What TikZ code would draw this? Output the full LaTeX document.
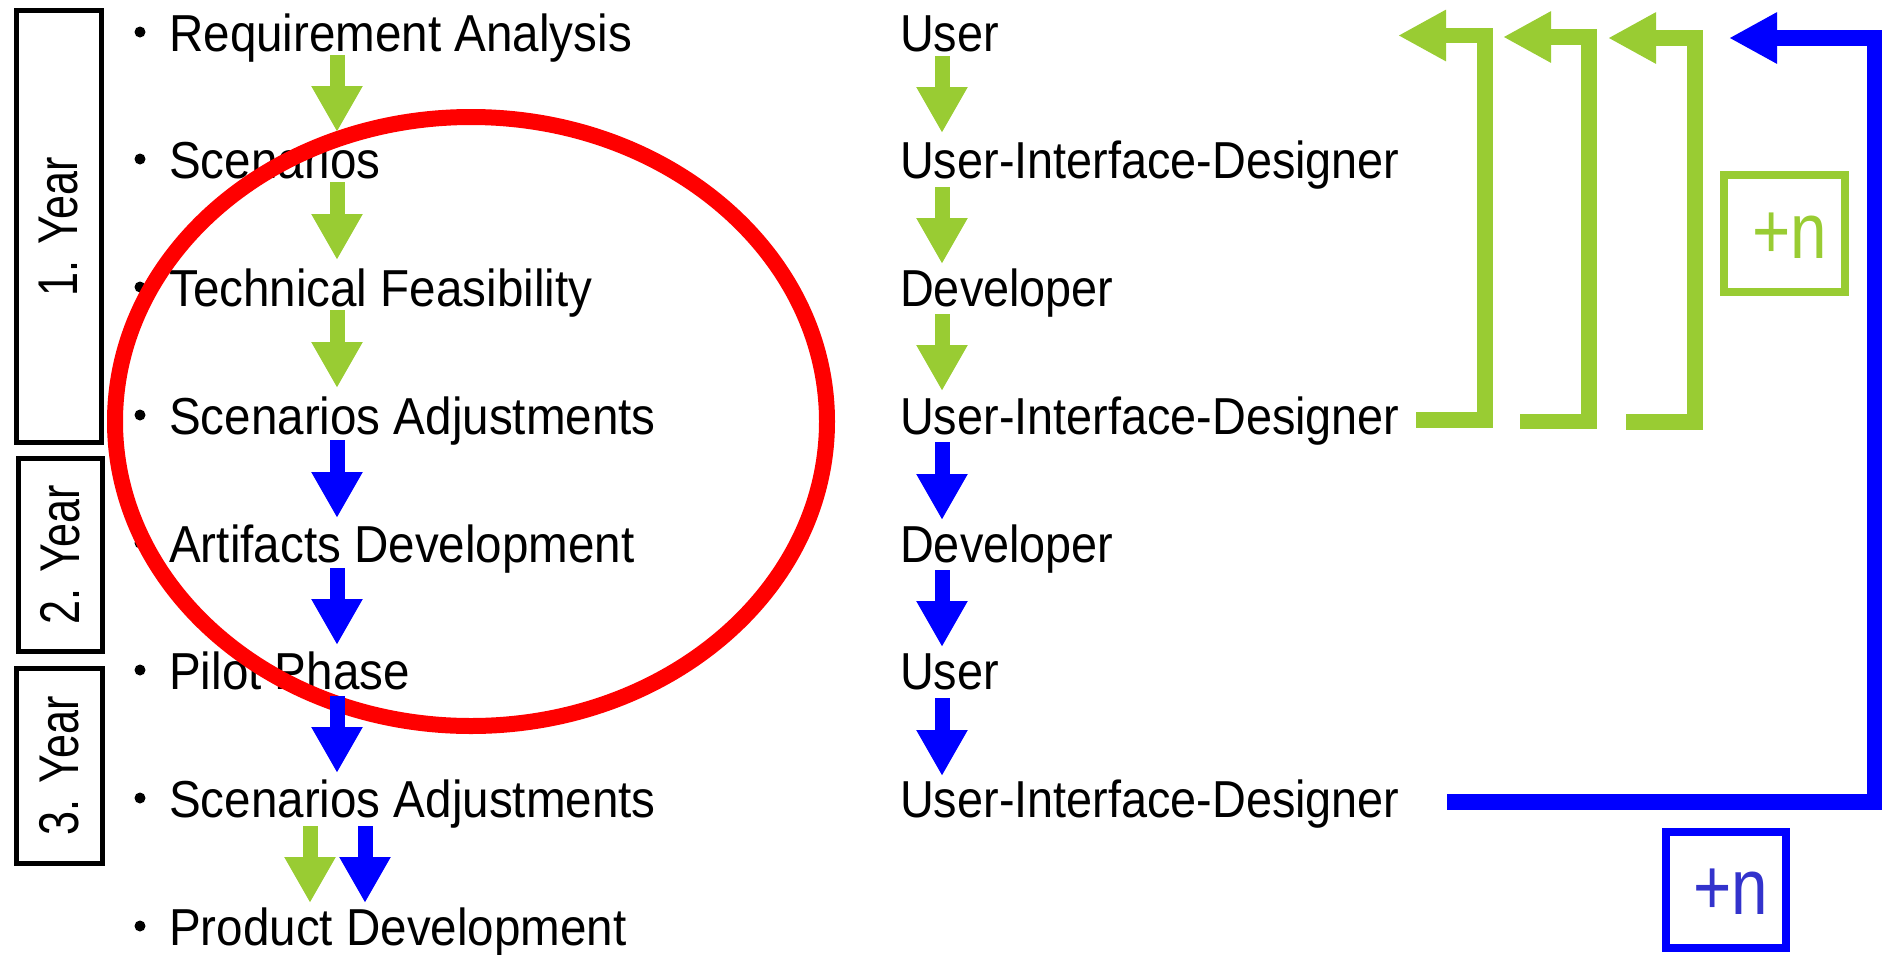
\documentclass[tikz,border=0pt]{standalone}
\usepackage{fontspec}
\setmainfont{Liberation Sans}
\newfontfamily\txtfont[FakeStretch=0.9]{Liberation Sans}
\newfontfamily\lfont[FakeStretch=0.915]{Liberation Sans}
\newfontfamily\yrfont[FakeStretch=0.77]{Liberation Sans}
\newfontfamily\nfont[FakeStretch=0.83]{Liberation Sans}
\usetikzlibrary{arrows.meta,calc}
\definecolor{gcol}{HTML}{99CC33}
\definecolor{bcol}{HTML}{0000FF}
\definecolor{rcol}{HTML}{FF0000}
\definecolor{ntxt}{HTML}{3333CC}
\begin{document}
\begin{tikzpicture}[x=1pt,y=-1pt,
  lbl/.style={anchor=base west,inner sep=0pt,font=\txtfont\fontsize{52pt}{52pt}\selectfont},
  llbl/.style={lbl,font=\lfont\fontsize{52pt}{52pt}\selectfont},
  yearbox/.style={draw=black,line width=5pt,inner sep=0pt},
  yeartext/.style={rotate=90,inner sep=0pt,font=\yrfont\fontsize{56pt}{56pt}\selectfont},
  garrow/.style={draw=gcol,line width=15pt,-{Triangle[width=48pt,length=46pt]}},
  barrow/.style={draw=bcol,line width=15pt,-{Triangle[width=48pt,length=46pt]}},
  gloop/.style={draw=gcol,line width=15.5pt,line join=miter,-{Triangle[width=48pt,length=48pt]}},
  bloop/.style={draw=bcol,line width=15.5pt,line join=miter,-{Triangle[width=48pt,length=48pt]}},
  nbox/.style={line width=8pt,inner sep=0pt,minimum width=121pt,minimum height=117pt},
  ntext/.style={anchor=base west,inner sep=0pt,font=\nfont\fontsize{79pt}{79pt}\selectfont},
  dot/.style={fill=black}]
\useasboundingbox (0,0) rectangle (1883,954);

% year boxes
\node[yearbox,minimum width=85pt,minimum height=432pt] (y1) at (58.5,226.5) {};
\node[yeartext] (y1t) at (y1) {1. Year};
\node[yearbox,minimum width=84pt,minimum height=193pt] (y2) at (60,554.5) {};
\node[yeartext] (y2t) at (y2) {2. Year};
\node[yearbox,minimum width=86pt,minimum height=195pt] (y3) at (59,765.5) {};
\node[yeartext] (y3t) at (y3) {3. Year};

% left column
\node[llbl] (L1) at (169,51) {Requirement Analysis};
\node[llbl] (L2) at (169,178) {Scenarios};
\node[llbl] (L3) at (169,306) {Technical Feasibility};
\node[llbl] (L4) at (169,434) {Scenarios Adjustments};
\node[llbl] (L5) at (169,562) {Artifacts Development};
\node[llbl] (L6) at (169,689) {Pilot Phase};
\node[llbl] (L7) at (169,817) {Scenarios Adjustments};
\node[llbl] (L8) at (169,945) {Product Development};
\foreach \b in {51,178,306,434,562,689,817,945}
  \fill[dot] (140,\b-19) circle (5.5);

% right column
\node[lbl] (R1) at (900,51) {User};
\node[lbl] (R2) at (900,178) {User-Interface-Designer};
\node[lbl] (R3) at (900,306) {Developer};
\node[lbl] (R4) at (900,434) {User-Interface-Designer};
\node[lbl] (R5) at (900,562) {Developer};
\node[lbl] (R6) at (900,689) {User};
\node[lbl] (R7) at (900,817) {User-Interface-Designer};

% red ellipse
\draw[rcol,line width=16pt] (471,421.5) ellipse [x radius=356, y radius=304.5];

% column arrows
\coordinate (cl) at (337,0);
\coordinate (cr) at (942,0);
\coordinate (cg) at (310,0);
\coordinate (cb) at (365,0);
\draw[garrow] ($(L1.base -| cl)+(0,4)$) -- ($(L2.base -| cl)+(0,-46)$);
\draw[garrow] ($(L2.base -| cl)+(0,4)$) -- ($(L3.base -| cl)+(0,-46)$);
\draw[garrow] ($(L3.base -| cl)+(0,4)$) -- ($(L4.base -| cl)+(0,-46)$);
\draw[barrow] ($(L4.base -| cl)+(0,6)$) -- ($(L5.base -| cl)+(0,-44)$);
\draw[barrow] ($(L5.base -| cl)+(0,6)$) -- ($(L6.base -| cl)+(0,-44)$);
\draw[barrow] ($(L6.base -| cl)+(0,7)$) -- ($(L7.base -| cl)+(0,-44)$);
\draw[garrow] ($(L7.base -| cg)+(0,9)$) -- ($(L8.base -| cg)+(0,-42)$);
\draw[barrow] ($(L7.base -| cb)+(0,9)$) -- ($(L8.base -| cb)+(0,-42)$);

\draw[garrow] ($(R1.base -| cr)+(0,5)$) -- ($(R2.base -| cr)+(0,-45)$);
\draw[garrow] ($(R2.base -| cr)+(0,9)$) -- ($(R3.base -| cr)+(0,-42)$);
\draw[garrow] ($(R3.base -| cr)+(0,8)$) -- ($(R4.base -| cr)+(0,-43)$);
\draw[barrow] ($(R4.base -| cr)+(0,8)$) -- ($(R5.base -| cr)+(0,-42)$);
\draw[barrow] ($(R5.base -| cr)+(0,8)$) -- ($(R6.base -| cr)+(0,-42)$);
\draw[barrow] ($(R6.base -| cr)+(0,9)$) -- ($(R7.base -| cr)+(0,-41)$);

% loop-back brackets
\coordinate (g1s) at (1416,420);   \coordinate (g1e) at (1398,35.5);
\coordinate (g2s) at (1520,421.5); \coordinate (g2e) at (1503,37);
\coordinate (g3s) at (1626,422);   \coordinate (g3e) at (1608,38);
\draw[gloop] (g1s) -- (1485,420) -- (1485,35.5) -- (g1e);
\draw[gloop] (g2s) -- (1589,421.5) -- (1589,37) -- (g2e);
\draw[gloop] (g3s) -- (1695,422) -- (1695,38) -- (g3e);
\coordinate (bs) at (1447,802); \coordinate (be) at (1729,38);
\draw[bloop] (bs) -- (1874.5,802) -- (1874.5,38) -- (be);

% +n boxes
\node[nbox,draw=gcol] (gn) at (1784.75,233.5) {};
\node[ntext,text=gcol] (gnt) at (1752,258) {+n};
\node[nbox,draw=bcol,minimum width=120.5pt,minimum height=116.5pt] (bn) at (1725.75,889.75) {};
\node[ntext,text=ntxt] (bnt) at (1693,914) {+n};
\end{tikzpicture}
\end{document}
